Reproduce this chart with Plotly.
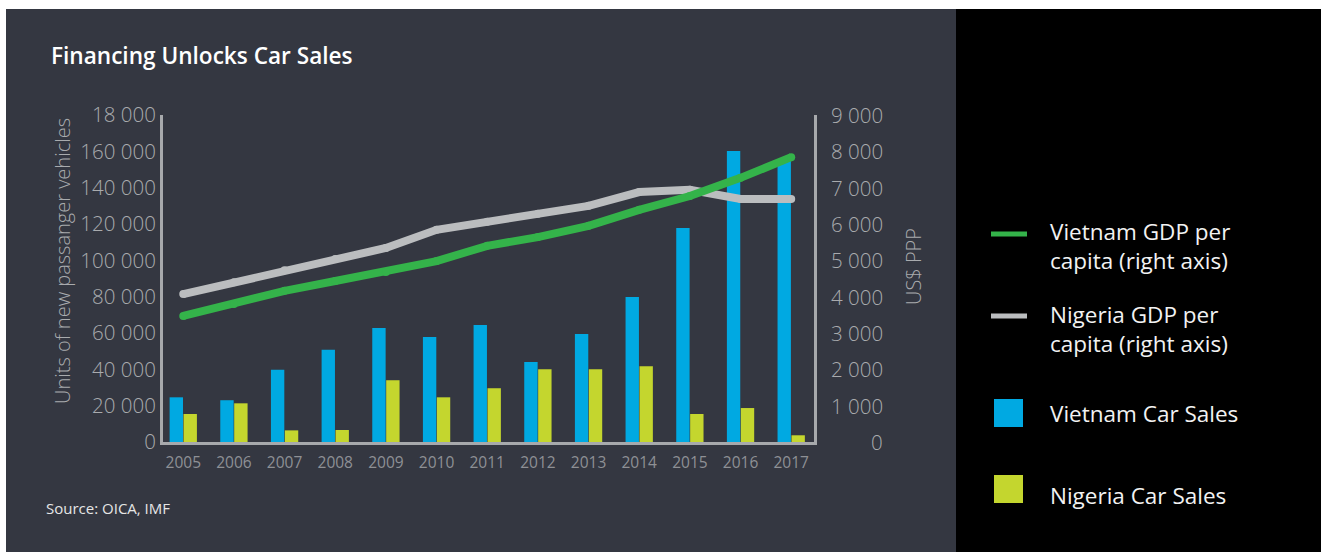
import plotly.graph_objects as go

# ---------------- data ----------------
years = [2005, 2006, 2007, 2008, 2009, 2010, 2011, 2012, 2013, 2014, 2015, 2016, 2017]
vietnam_sales = [24600, 23000, 39800, 50800, 62800, 57800, 64400, 44000, 59500, 79800, 117800, 160200, 155200]
nigeria_sales = [15400, 21300, 6400, 6600, 34000, 24600, 29600, 40000, 40000, 41700, 15400, 18700, 3700]
vietnam_gdp = [3470, 3800, 4160, 4430, 4680, 4980, 5400, 5640, 5950, 6390, 6770, 7270, 7840]
nigeria_gdp = [4070, 4400, 4730, 5040, 5340, 5840, 6060, 6280, 6500, 6880, 6940, 6690, 6690]

left_tickvals = [0, 20000, 40000, 60000, 80000, 100000, 120000, 140000, 160000, 180000]
left_ticktext = ["0", "20 000", "40 000", "60 000", "80 000", "100 000", "120 000", "140 000", "160 000", "18 000"]
right_tickvals = [0, 1000, 2000, 3000, 4000, 5000, 6000, 7000, 8000, 9000]
right_ticktext = ["0", "1 000", "2 000", "3 000", "4 000", "5 000", "6 000", "7 000", "8 000", "9 000"]

series_names = ["Vietnam GDP per<br>capita (right axis)", "Nigeria GDP per<br>capita (right axis)",
                "Vietnam Car Sales", "Nigeria Car Sales"]

# ---------------- styles ----------------
BLUE = "#00A9E2"
YELLOW = "#C4D62E"
GREEN = "#34B34A"
GREY_LINE = "#BBBDBF"
AXIS = "#A7A9AC"
PANEL = "#343741"
TICK = "#A9ABAE"
FONT = "Open Sans"

W, H = 1321, 552
L, R, T, B = 163, 814, 115, 442  # plot area in pixels


def px(xp):
    return (xp - L) / (R - L)


def py(yp):
    return (B - yp) / (B - T)


fig = go.Figure()
fig.add_trace(go.Bar(x=years, y=vietnam_sales, name="Vietnam Car Sales", marker=dict(color=BLUE, line=dict(width=0)),
                     showlegend=False, yaxis="y"))
fig.add_trace(go.Bar(x=years, y=nigeria_sales, name="Nigeria Car Sales", marker=dict(color=YELLOW, line=dict(width=0)),
                     showlegend=False, yaxis="y"))
fig.add_trace(go.Scatter(x=years, y=nigeria_gdp, name="Nigeria GDP per capita", mode="lines+markers",
                         line=dict(color=GREY_LINE, width=8), marker=dict(color=GREY_LINE, size=8),
                         showlegend=False, yaxis="y2"))
fig.add_trace(go.Scatter(x=years, y=vietnam_gdp, name="Vietnam GDP per capita", mode="lines+markers",
                         line=dict(color=GREEN, width=8), marker=dict(color=GREEN, size=8),
                         showlegend=False, yaxis="y2"))

shapes = [
    dict(type="rect", xref="paper", yref="paper", x0=px(0), x1=px(W), y0=py(H), y1=py(0),
         fillcolor="white", line=dict(width=0), layer="below"),
    dict(type="rect", xref="paper", yref="paper", x0=px(6), x1=px(956), y0=py(H), y1=py(9),
         fillcolor=PANEL, line=dict(width=0), layer="below"),
    dict(type="rect", xref="paper", yref="paper", x0=px(956), x1=px(W), y0=py(H), y1=py(9),
         fillcolor="black", line=dict(width=0), layer="below"),
]

legend_colors = [GREEN, GREY_LINE, BLUE, YELLOW]
legend_kind = ["line", "line", "box", "box"]
legend_sym_y = [234, 316, 413, 489]
legend_text_y = [246, 329, 413, 496]
annotations = []
for name, col, kind, sy, ty in zip(series_names, legend_colors, legend_kind, legend_sym_y, legend_text_y):
    if kind == "line":
        shapes.append(dict(type="line", xref="paper", yref="paper", x0=px(991), x1=px(1027), y0=py(sy), y1=py(sy),
                           line=dict(color=col, width=5)))
    else:
        shapes.append(dict(type="rect", xref="paper", yref="paper", x0=px(994), x1=px(1023),
                           y0=py(sy + 14), y1=py(sy - 14), fillcolor=col, line=dict(width=0)))
    annotations.append(dict(xref="paper", yref="paper", x=px(1048), y=py(ty), xanchor="left", yanchor="middle",
                            text=name, showarrow=False, align="left",
                            font=dict(family=FONT, size=22.5, color="#F2F2F2")))

# right axis tick labels (right aligned)
for v, t in zip(right_tickvals, right_ticktext):
    annotations.append(dict(xref="paper", yref="y2", x=px(885), y=v, xanchor="right", yanchor="middle",
                            text=t, showarrow=False, font=dict(family=FONT, size=20.5, color=TICK, weight=300)))

annotations += [
    dict(xref="paper", yref="paper", x=px(49), y=py(55), xanchor="left", yanchor="middle",
         text="Financing Unlocks Car Sales", showarrow=False,
         font=dict(family=FONT, size=22.6, color="white", weight=600)),
    dict(xref="paper", yref="paper", x=px(44), y=py(508), xanchor="left", yanchor="middle",
         text="Source: OICA, IMF", showarrow=False, font=dict(family=FONT, size=15, color="#E6E6E6")),
    dict(xref="paper", yref="paper", x=px(62), y=py(261), xanchor="center", yanchor="middle", textangle=-90,
         text="Units of new passanger vehicles", showarrow=False,
         font=dict(family=FONT, size=20, color=TICK, weight=300)),
    dict(xref="paper", yref="paper", x=px(913), y=py(266), xanchor="center", yanchor="middle", textangle=-90,
         text="US$ PPP", showarrow=False, font=dict(family=FONT, size=20, color=TICK, weight=300)),
]

fig.update_layout(
    width=W, height=H, autosize=False,
    margin=dict(l=L, r=W - R, t=T, b=H - B, pad=0),
    paper_bgcolor="white", plot_bgcolor="rgba(0,0,0,0)",
    barmode="group", bargap=0.45, bargroupgap=0.04,
    showlegend=False,
    shapes=shapes, annotations=annotations,
    xaxis=dict(range=[2004.6, 2017.45], tickvals=years, ticktext=[str(y) for y in years],
               showline=True, linecolor=AXIS, linewidth=3, showgrid=False, zeroline=False, ticks="",
               tickfont=dict(family=FONT, size=15.5, color="#8E9095"), ticklabelstandoff=4),
    yaxis=dict(range=[0, 180000], tickvals=left_tickvals, ticktext=left_ticktext,
               showline=True, linecolor=AXIS, linewidth=3, showgrid=False, zeroline=False, ticks="",
               tickfont=dict(family=FONT, size=20.5, color=TICK, weight=300), ticklabelstandoff=0),
    yaxis2=dict(range=[0, 9000], overlaying="y", side="right", showticklabels=False,
                showline=True, linecolor=AXIS, linewidth=3, showgrid=False, zeroline=False, ticks=""),
)

fig.write_html("out.html", config={"displayModeBar": False},
               post_script="document.body.style.margin='0';")
